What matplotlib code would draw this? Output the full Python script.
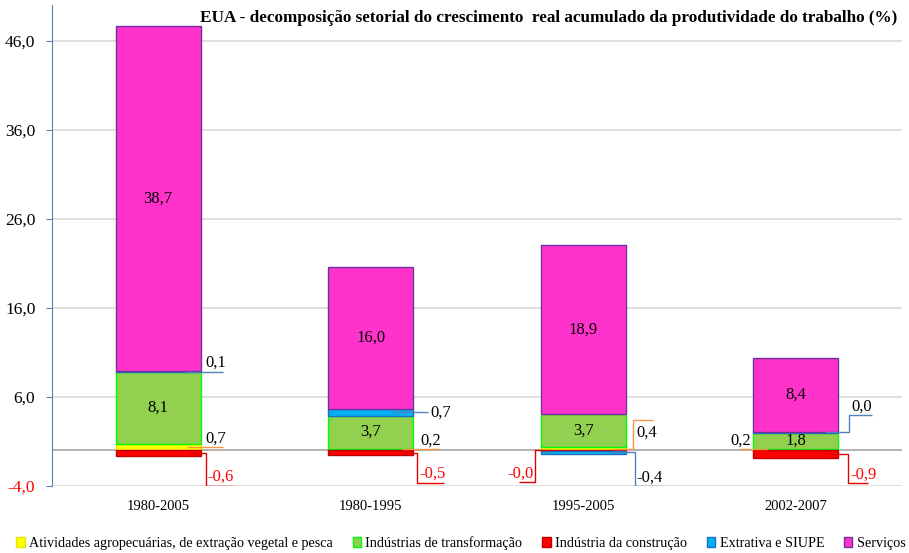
import numpy as np
import matplotlib.pyplot as plt
from matplotlib.patches import Patch

periodos = ['1980-2005', '1980-1995', '1995-2005', '2002-2007']
agro = [0.7, 0.2, 0.4, 0.2]
transf = [8.1, 3.7, 3.7, 1.8]
constr = [-0.6, -0.5, -0.02, -0.9]
extr = [0.1, 0.7, -0.4, 0.02]
serv = [38.7, 16.0, 18.9, 8.4]

series = [
    ('Atividades agropecuárias, de extração vegetal e pesca', agro, '#FFFF00', '#E5E500'),
    ('Indústrias de transformação', transf, '#92D050', '#00FF00'),
    ('Indústria da construção', constr, '#FF0000', '#C00000'),
    ('Extrativa e SIUPE', extr, '#00B0F0', '#1F6FC0'),
    ('Serviços', serv, '#FF33CC', '#7030A0'),
]

plt.rcParams['font.family'] = ['Liberation Serif', 'DejaVu Serif']

fig = plt.figure(figsize=(9.09, 5.53), dpi=100)
ax = fig.add_axes([0.0572, 0.1212, 0.935, 0.8698])

x = np.arange(len(periodos))
w = 0.4
pos = np.zeros(len(periodos))
neg = np.zeros(len(periodos))
mids = {}
for name, vals, fc, ec in series:
    vals = np.array(vals)
    bottom = np.where(vals >= 0, pos, neg)
    ax.bar(x, vals, w, bottom=bottom, color=fc, edgecolor=ec, linewidth=1.0, zorder=3)
    mids[name] = bottom + vals / 2
    pos = np.where(vals >= 0, pos + vals, pos)
    neg = np.where(vals < 0, neg + vals, neg)


def fmt(v):
    return f'{v:.1f}'.replace('.', ',')


vals_by_name = dict((s[0], s[1]) for s in series)

# rótulos internos
for name in ['Indústrias de transformação', 'Serviços']:
    for i, v in enumerate(vals_by_name[name]):
        ax.text(x[i], mids[name][i], fmt(v), ha='center', va='center', fontsize=12, zorder=5)

# rótulos externos com linhas de chamada (deslocamentos em pixels)
PX_X = 212.5
PX_Y = 8.91
leaders = [
    # serie, categoria, lado, caminho, pos. rótulo, ha, va, cor linha, cor texto
    ('Extrativa e SIUPE', 0, 1, [(-16, 0), (22, 0)], (5, 1), 'left', 'bottom', '#4F81BD', 'black'),
    ('Atividades agropecuárias, de extração vegetal e pesca', 0, 1, [(-14, 0), (22, 0)], (5, 1), 'left', 'bottom', '#F79646', 'black'),
    ('Indústria da construção', 0, 1, [(-11, 0), (5, 0), (5, -33), (32, -33)], (7, -32), 'left', 'bottom', '#E00000', 'red'),
    ('Extrativa e SIUPE', 1, 1, [(-20, 0), (15, 0)], (17, 0), 'left', 'center', '#4F81BD', 'black'),
    ('Atividades agropecuárias, de extração vegetal e pesca', 1, 1, [(-11, 0), (27, 0)], (7, 1), 'left', 'bottom', '#F79646', 'black'),
    ('Indústria da construção', 1, 1, [(-10, 0), (4, 0), (4, -30), (31, -30)], (6, -29), 'left', 'bottom', '#E00000', 'red'),
    ('Atividades agropecuárias, de extração vegetal e pesca', 2, 1, [(-13, 0), (7, 0), (7, 29), (27, 29)], (11, 16), 'left', 'center', '#F79646', 'black'),
    ('Extrativa e SIUPE', 2, 1, [(-16, 0), (9, 0), (9, -34), (36, -34)], (11, -33), 'left', 'bottom', '#4F81BD', 'black'),
    ('Indústria da construção', 2, -1, [(10, 0), (-6, 0), (-6, -32), (-22, -32)], (-7, -31), 'right', 'bottom', '#E00000', 'red'),
    ('Extrativa e SIUPE', 3, 1, [(-13, 0), (11, 0), (11, 17), (34, 17)], (13, 18), 'left', 'bottom', '#4F81BD', 'black'),
    ('Atividades agropecuárias, de extração vegetal e pesca', 3, -1, [(15, 0), (-13, 0)], (-2, 1), 'right', 'bottom', '#F79646', 'black'),
    ('Indústria da construção', 3, 1, [(-9, 0), (10, 0), (10, -29), (30, -29)], (12, -28), 'left', 'bottom', '#E00000', 'red'),
]
for name, i, side, path, lab, ha, va, lc, tc in leaders:
    x0 = x[i] + side * w / 2
    y0 = mids[name][i]
    px = [x0 + p[0] / PX_X for p in path]
    py = [y0 + p[1] / PX_Y for p in path]
    ax.plot(px, py, color=lc, lw=1.0, zorder=4, solid_capstyle='butt')
    ax.text(x0 + lab[0] / PX_X, y0 + lab[1] / PX_Y, fmt(vals_by_name[name][i]),
            ha=ha, va=va, fontsize=12, color=tc, zorder=5)

ax.set_xlim(-0.5, len(periodos) - 0.5)
ax.set_ylim(-4, 50)
yt = np.arange(-4, 47, 10)
ax.set_yticks(yt)
ax.set_yticklabels([fmt(t) for t in yt], fontsize=12.5)
ax.get_yticklabels()[0].set_color('red')
for t in yt:
    ax.axhline(t, color='#D9D9D9', lw=1.2, zorder=1)
ax.axhline(0, color='#A6A6A6', lw=1.2, zorder=2)

ax.set_xticks(x)
ax.set_xticklabels(periodos, fontsize=10.5)
ax.tick_params(axis='x', length=0, pad=10)
ax.tick_params(axis='y', color='#4F81BD', length=4, direction='out', pad=8)
for s in ['top', 'right', 'bottom']:
    ax.spines[s].set_visible(False)
ax.spines['left'].set_color('#4F81BD')

fig.text(0.987, 0.968, 'EUA - decomposição setorial do crescimento  real acumulado da produtividade do trabalho (%)',
         ha='right', va='center', fontsize=12.3, fontweight='bold')

handles = [Patch(facecolor=fc, edgecolor=ec, label=name) for name, vals, fc, ec in series]
fig.legend(handles=handles, loc='center', bbox_to_anchor=(0.507, 0.018), ncol=5, frameon=False,
           fontsize=10.2, handlelength=0.6, handleheight=0.8, handletextpad=0.3, columnspacing=1.4,
           borderaxespad=0)

fig.savefig('out.png', dpi=100)
